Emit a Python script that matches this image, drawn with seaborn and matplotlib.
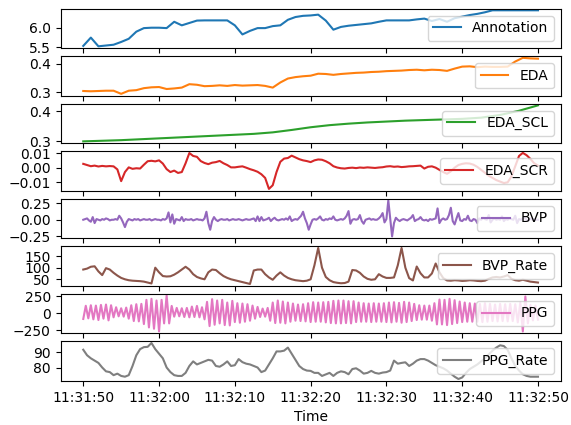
import pandas as pd
import matplotlib
matplotlib.use("Agg")
import matplotlib.pyplot as plt
import matplotlib.dates as mdates
import seaborn as sns

# signal names, in panel order
names = ['Annotation', 'EDA', 'EDA_SCL', 'EDA_SCR', 'BVP', 'BVP_Rate', 'PPG', 'PPG_Rate']

# one value per second
annotation = [5.54, 5.75, 5.53, 5.55, 5.57, 5.64, 5.72, 5.90, 5.99, 6.00,
              6.00, 5.99, 6.15, 6.06, 6.12, 6.18, 6.185, 6.185, 6.185, 6.185,
              6.06, 5.83, 5.92, 5.99, 5.99, 6.04, 6.06, 6.20, 6.27, 6.30,
              6.31, 6.33, 6.18, 5.95, 6.02, 6.05, 6.07, 6.09, 6.11, 6.15,
              6.185, 6.185, 6.185, 6.185, 6.21, 6.23, 6.17, 6.22, 6.15, 6.24,
              6.28, 6.32, 6.35, 6.39, 6.44, 6.44, 6.44, 6.44, 6.44, 6.44, 6.44]

# one value per second
eda = [.304, .303, .304, .305, .305, .294, .305, .307, .314, .317,
       .318, .311, .313, .316, .328, .326, .321, .322, .324, .322,
       .325, .323, .324, .325, .322, .316, .334, .348, .353, .356,
       .358, .365, .364, .361, .364, .366, .368, .369, .371, .372,
       .374, .375, .376, .378, .379, .377, .379, .378, .375, .383,
       .390, .391, .388, .390, .389, .389, .390, .408, .421, .419, .418]

# every 2.5 s
eda_scl = [.300, .302, .304, .307, .310, .313, .316, .319, .322, .325,
           .330, .338, .347, .354, .359, .363, .366, .369, .371, .373,
           .375, .379, .388, .402, .420]

# every 0.5 s
eda_scr = [.0026, .0018, .0010, .0014, .0008, .0012, .0009, .0011, .0009, -.0012,
           -.0092, -.0030, .0002, -.0008, -.0004, -.0006, .0020, .0044, .0047, .0043,
           .0050, .0028, -.0010, -.0030, -.0020, -.0036, -.0030, .0030, .0100, .0080,
           .0074, .0045, .0032, .0024, .0034, .0038, .0046, .0030, .0018, .0002,
           .0002, .0006, .0009, .0000, -.0010, -.0018, -.0028, -.0045, -.0070, -.0145,
           -.0120, -.0030, .0040, .0062, .0066, .0082, .0070, .0058, .0050, .0045,
           .0038, .0050, .0056, .0054, .0044, .0030, .0010, .0001, -.0004, -.0006,
           -.0002, .0000, -.0003, .0001, -.0001, .0002, .0000, -.0002, .0001, .0003,
           .0008, .0010, .0006, .0008, .0004, .0006, .0009, .0010, .0012, .0014,
           -.0006, .0006, .0009, .0000, -.0015, -.0030, -.0042, -.0025, .0000, .0018,
           .0026, .0030, .0028, .0020, .0005, -.0015, -.0035, -.0055, -.0070, -.0085,
           -.0095, -.0105, -.0100, -.0060, .0010, .0080, .0101, .0085, .0060, .0030,
           .0014]

# every 0.25 s
bvp = [0.00, 0.01, 0.02, -0.01, -0.03, 0.04, -0.05, 0.01,
       0.00, -0.01, 0.01, 0.00, 0.02, 0.01, -0.01, 0.00,
       0.00, 0.01, 0.00, 0.06, 0.02, -0.04, -0.11, -0.03,
       0.01, 0.00, -0.01, 0.01, 0.00, 0.01, -0.01, 0.00,
       0.01, 0.00, 0.00, 0.01, -0.01, 0.00, 0.01, 0.00,
       0.00, -0.01, 0.01, 0.00, 0.02, 0.11, -0.04, 0.08,
       -0.06, 0.01, 0.00, -0.01, 0.04, -0.02, 0.01, 0.00,
       0.00, 0.01, -0.01, 0.00, 0.01, 0.00, 0.00, -0.01,
       0.02, 0.12, -0.05, -0.15, -0.02, 0.04, 0.00, -0.02,
       0.00, 0.01, 0.00, 0.00, 0.01, -0.01, 0.00, 0.01,
       0.00, 0.00, 0.01, 0.00, -0.01, 0.00, 0.01, 0.00,
       0.00, 0.01, 0.02, -0.02, 0.05, -0.02, 0.04, -0.01,
       0.00, 0.01, 0.03, -0.02, 0.01, 0.03, 0.00, -0.01,
       0.00, 0.01, 0.00, 0.02, 0.00, 0.05, -0.02, 0.00,
       0.01, 0.00, 0.03, 0.06, 0.12, 0.02, -0.05, -0.15,
       -0.07, 0.00, 0.01, 0.00, 0.02, 0.05, 0.00, -0.01,
       0.01, 0.00, 0.02, 0.01, 0.05, 0.00, -0.01, 0.00,
       0.01, 0.00, 0.02, 0.06, 0.13, -0.06, 0.00, 0.01,
       0.00, 0.01, 0.07, -0.02, -0.06, 0.00, 0.01, 0.02,
       0.00, 0.01, 0.00, 0.00, 0.02, 0.05, 0.10, -0.04,
       0.01, 0.29, 0.02, -0.25, -0.05, 0.03, 0.00, -0.02,
       0.00, 0.01, 0.00, -0.01, 0.01, 0.03, 0.07, -0.02,
       0.00, 0.01, 0.04, 0.00, -0.01, 0.00, -0.02, 0.01,
       0.00, 0.01, 0.02, 0.17, -0.05, 0.00, 0.02, 0.00,
       0.01, 0.07, 0.18, -0.02, -0.07, 0.02, 0.10, -0.01,
       -0.02, 0.01, 0.00, 0.06, -0.01, -0.02, 0.01, 0.00,
       -0.05, 0.02, 0.00, 0.03, 0.01, 0.00, 0.07, -0.04,
       0.00, 0.02, 0.00, 0.01, 0.00, 0.05, -0.02, 0.01,
       0.00, 0.02, 0.01, 0.00, 0.06, -0.05, 0.01, 0.00,
       0.02, 0.03, 0.00, -0.01, 0.02, 0.00, 0.01, 0.00,
       0.00]

# every 0.5 s
bvp_rate = [92, 96, 104, 106, 84, 68, 98, 92, 78, 66,
            56, 50, 46, 44, 43, 42, 40, 36, 32, 100,
            80, 64, 62, 63, 70, 80, 92, 104, 92, 72,
            60, 54, 50, 80, 92, 90, 76, 64, 56, 50,
            46, 42, 38, 34, 30, 88, 92, 92, 72, 58,
            48, 66, 80, 66, 56, 50, 46, 44, 42, 44,
            50, 110, 185, 100, 60, 46, 38, 35, 33, 34,
            40, 90, 88, 78, 62, 52, 48, 50, 72, 62,
            56, 56, 58, 110, 185, 100, 55, 45, 105, 76,
            58, 58, 75, 118, 80, 55, 45, 44, 46, 45,
            43, 44, 46, 45, 43, 42, 44, 52, 58, 60,
            58, 62, 68, 52, 46, 44, 48, 44, 40, 38,
            36]

# every 1/3 s, alternating trough / peak
ppg = [-84, 112, -75, 120, -90, 115,
       -100, 125, -80, 130, -105, 120,
       -60, 90, -45, 75, -50, 85,
       -80, 120, -115, 135, -120, 140,
       -160, 200, -210, 215, -230, 190,
       -270, 200, -150, 265, -150, 110,
       -50, 80, -45, 75, -55, 80,
       -60, 100, -55, 110, -60, 90,
       -90, 170, -190, 210, -170, 190,
       -150, 200, -175, 160, -180, 185,
       -130, 150, -140, 145, -125, 135,
       -110, 115, -80, 95, -55, 70,
       -50, 80, -110, 160, -145, 190,
       -140, 175, -150, 160, -125, 145,
       -110, 130, -115, 135, -120, 150,
       -130, 165, -125, 160, -125, 165,
       -135, 170, -145, 185, -150, 190,
       -150, 190, -145, 180, -150, 180,
       -130, 160, -125, 150, -125, 145,
       -130, 150, -125, 145, -125, 150,
       -130, 160, -135, 165, -125, 155,
       -140, 170, -130, 160, -115, 140,
       -100, 120, -95, 115, -95, 115,
       -110, 150, -165, 205, -165, 200,
       -175, 215, -160, 195, -145, 175,
       -130, 160, -125, 150, -125, 145,
       -125, 140, -130, 150, -125, 140,
       -115, 130, -120, 140, -115, 135,
       -120, 140, -115, 135, -135, 160,
       -270, 250, -150, 125, -105, 115,
       -95]

# every 0.5 s
ppg_rate = [91.6, 88, 86, 84.5, 83, 80, 77.5, 77, 75, 76,
            74.5, 74, 75, 81, 88, 92, 93.3, 93.5, 96, 92,
            89, 86, 80, 77, 75, 74.5, 74.5, 76.5, 81, 84,
            82, 83, 84, 85, 84.5, 81, 80.5, 82, 84, 81,
            81.5, 85.5, 83.5, 82.5, 82, 81, 80, 77, 78, 82,
            86, 90.5, 90.5, 91, 93, 89, 85, 81, 79, 78,
            77.8, 76.5, 76.5, 74.5, 75.5, 76.5, 74.5, 76.5, 77.5, 77,
            75.6, 79, 79.5, 78, 76, 76.5, 77.8, 76.5, 76, 76.7,
            77, 78, 84.5, 82.5, 83, 83.4, 81, 82.5, 84.5, 85.5,
            85.5, 84.5, 83, 81.5, 80.5, 79.5, 78, 76, 74, 72.5,
            73.5, 76.5, 79, 80.5, 82, 84, 86, 88.5, 91, 93,
            94.5, 94, 91.5, 86, 81, 78, 75.6, 74.5, 74, 74,
            74]

series = [annotation, eda, eda_scl, eda_scr, bvp, bvp_rate, ppg, ppg_rate]

start = pd.Timestamp('2023-01-01 11:31:50')
end = start + pd.Timedelta(seconds=60)

colors = sns.color_palette('tab10')

fig, axes = plt.subplots(8, 1, figsize=(5.71, 4.25), dpi=100, sharex=True)
fig.subplots_adjust(left=0.106, right=0.982, top=0.980, bottom=0.104, hspace=0.2)

for i, (ax, name, vals) in enumerate(zip(axes, names, series)):
    times = pd.date_range(start, end, periods=len(vals))
    sns.lineplot(x=times, y=vals, ax=ax, color=colors[i], label=name)
    ax.legend(loc='center right')
    ax.set_ylabel('')

axes[-1].xaxis.set_major_locator(mdates.SecondLocator(bysecond=range(0, 60, 10)))
axes[-1].xaxis.set_major_formatter(mdates.DateFormatter('%H:%M:%S'))
axes[-1].set_xlabel('Time')

fig.savefig('out.png', dpi=100)
